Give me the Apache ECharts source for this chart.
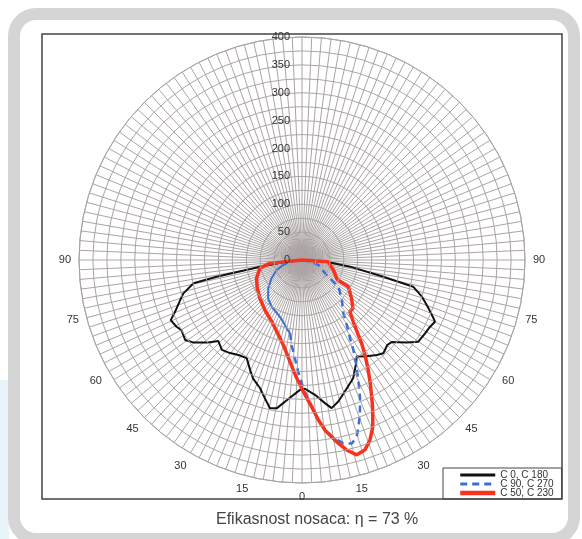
<!DOCTYPE html>
<html>
<head>
<meta charset="utf-8">
<script src="https://cdn.jsdelivr.net/npm/echarts@6/dist/echarts.min.js"></script>
<style>
  html, body { margin: 0; padding: 0; background: #fff; }
  #chart { width: 582px; height: 539px; }
</style>
</head>
<body>
<div id="chart"></div>
<script>
// gamma angle (deg, negative = left half-plane), intensity (cd/klm)
const c0_c180 = [
  [-90, 0], [-83, 34], [-80.9, 76], [-78.9, 156], [-77.9, 199], [-74.3, 221],
  [-71.8, 230], [-67.8, 246], [-65.4, 259], [-62, 255], [-59.8, 250], [-55.6, 254],
  [-52.9, 245], [-48.7, 224], [-45.9, 209], [-41.7, 216], [-37.7, 211], [-33.8, 205],
  [-29.4, 202], [-25.3, 218], [-22.4, 230], [-18.1, 242], [-15, 257], [-12.2, 272],
  [-9.7, 270], [-6.2, 253], [-0.9, 233], [1.3, 231], [5.5, 243], [9.1, 260],
  [11.3, 271], [14.4, 262], [19.2, 244], [23.4, 231], [27.7, 209], [29.5, 199],
  [34, 208], [38.2, 217], [41.1, 222], [45.1, 216], [47.5, 218], [51.8, 239],
  [54.9, 255], [59.2, 257], [62.5, 259], [65.1, 263], [66.1, 258], [69.1, 243],
  [73, 225], [76.5, 205], [78.4, 149], [82.1, 87], [86.1, 44], [90, 0]
];

const c90_c270 = [
  [-90, 0], [-82, 22], [-75, 35], [-68.4, 49], [-58.9, 64], [-50, 79],
  [-41.3, 92], [-33, 100], [-23.3, 107], [-16.9, 116], [-12.6, 126], [-9.3, 133],
  [-6.9, 154], [-4.1, 177], [-1.9, 201], [0.6, 230], [3.8, 264], [6.3, 295],
  [9.5, 321], [12.7, 337], [15.2, 341], [17.2, 332], [18.7, 316], [20.7, 294],
  [23, 266], [25.1, 238], [27.6, 209], [29.7, 186], [31.5, 165], [34.5, 142],
  [37.8, 121], [46, 99], [53.7, 81], [55.3, 68], [60, 48], [73, 31],
  [78, 15], [90, 0]
];
// index where the blue trace turns dashed
const c90_dashFrom = 11;

const c50_c230 = [
  [-90, 0], [-84, 58], [-79, 77], [-68, 88], [-57.7, 95], [-47.6, 102],
  [-36.5, 112], [-26.2, 123], [-19.4, 136], [-12.4, 156], [-6.7, 184], [-2.6, 212],
  [0.6, 236], [3.8, 264], [5.8, 288], [7.7, 308], [10.8, 332], [13.2, 350],
  [15.7, 363], [18.3, 359], [20.7, 345], [23, 325], [25.7, 292], [28.5, 258],
  [31.1, 230], [33.6, 204], [35.6, 184], [36.9, 168], [39.7, 144], [42.9, 126],
  [46.4, 126], [52.4, 112], [60, 96], [61, 72], [72.3, 59], [86.3, 47], [90, 0]
];

const seriesNames = ['C 0, C 180', 'C 90, C 270', 'C 50, C 230'];
const radiusLabels = [0, 50, 100, 150, 200, 250, 300, 350, 400];
const angleLabels = [0, 15, 30, 45, 60, 75, 90];

const gridColor = '#aca4a4';
const font = 'Liberation Sans, Arial, sans-serif';
const black = '#111';
const blue = '#3c6fd4';
const red = '#f8321c';

const toPolar = (arr) => arr.map((d) => [d[1], d[0]]);

const chart = echarts.init(document.getElementById('chart'));

const option = {
  backgroundColor: '#fff',
  animation: false,
  title: {
    text: 'Efikasnost nosaca: η = 73 %',
    left: 211,
    top: 507,
    textStyle: { fontFamily: font, fontSize: 16, fontWeight: 'normal', color: '#444' }
  },
  legend: {
    data: [
      { name: seriesNames[0], lineStyle: { width: 3 } },
      { name: seriesNames[1], lineStyle: { width: 3 } },
      { name: seriesNames[2], lineStyle: { width: 4.5 } }
    ],
    orient: 'vertical',
    left: 443,
    top: 468,
    padding: [2, 8, 1, 15],
    itemWidth: 35,
    itemHeight: 6,
    itemGap: -1,
    borderColor: '#444',
    borderWidth: 1,
    itemStyle: { opacity: 0 },
    textStyle: { fontFamily: font, fontSize: 10, color: '#333', lineHeight: 9 }
  },
  polar: {
    center: [302, 260],
    radius: 223
  },
  angleAxis: {
    type: 'value',
    min: -180,
    max: 180,
    interval: 2.5,
    startAngle: 90,
    clockwise: false,
    axisLine: { lineStyle: { color: gridColor, width: 1 } },
    axisTick: { show: false },
    splitLine: { lineStyle: { color: gridColor, width: 1 } },
    axisLabel: {
      margin: 8,
      color: '#333',
      fontFamily: font,
      fontSize: 11,
      formatter: (v) => (angleLabels.indexOf(Math.abs(v)) >= 0 ? String(Math.abs(v)) : '')
    }
  },
  radiusAxis: {
    type: 'value',
    min: 0,
    max: 400,
    interval: 25,
    z: 10,
    axisLine: { show: false },
    axisTick: { show: false },
    splitLine: { lineStyle: { color: gridColor, width: 1 } },
    axisLabel: {
      margin: 12,
      color: '#333',
      fontFamily: font,
      fontSize: 11,
      formatter: (v) => (radiusLabels.indexOf(v) >= 0 ? String(v) : '')
    }
  },
  series: [
    {
      name: seriesNames[0],
      type: 'line',
      coordinateSystem: 'polar',
      data: toPolar(c0_c180),
      symbol: 'none',
      lineStyle: { color: black, width: 2 },
      itemStyle: { color: black },
      z: 3
    },
    {
      name: seriesNames[1],
      type: 'line',
      coordinateSystem: 'polar',
      data: toPolar(c90_c270.slice(c90_dashFrom)),
      symbol: 'none',
      lineStyle: { color: blue, width: 2.5, type: [7, 5] },
      itemStyle: { color: blue },
      z: 4
    },
    {
      name: seriesNames[1],
      type: 'line',
      coordinateSystem: 'polar',
      data: toPolar(c90_c270.slice(0, c90_dashFrom + 1)),
      symbol: 'none',
      lineStyle: { color: blue, width: 2 },
      itemStyle: { color: blue },
      z: 4
    },
    {
      name: seriesNames[2],
      type: 'line',
      coordinateSystem: 'polar',
      data: toPolar(c50_c230),
      symbol: 'none',
      lineStyle: { color: red, width: 3.5 },
      itemStyle: { color: red },
      z: 5
    }
  ],
  graphic: [
    {
      type: 'rect',
      shape: { x: 0, y: 380, width: 9, height: 159 },
      style: { fill: '#e9f3fa' },
      silent: true
    },
    {
      type: 'rect',
      shape: { x: 14, y: 14, width: 560, height: 525, r: 22 },
      style: { fill: 'none', stroke: '#d5d5d5', lineWidth: 12 },
      silent: true
    },
    {
      type: 'rect',
      shape: { x: 42, y: 34, width: 520, height: 465 },
      style: { fill: 'none', stroke: '#444', lineWidth: 1.5 },
      silent: true
    }
  ]
};

chart.setOption(option);
</script>
</body>
</html>
